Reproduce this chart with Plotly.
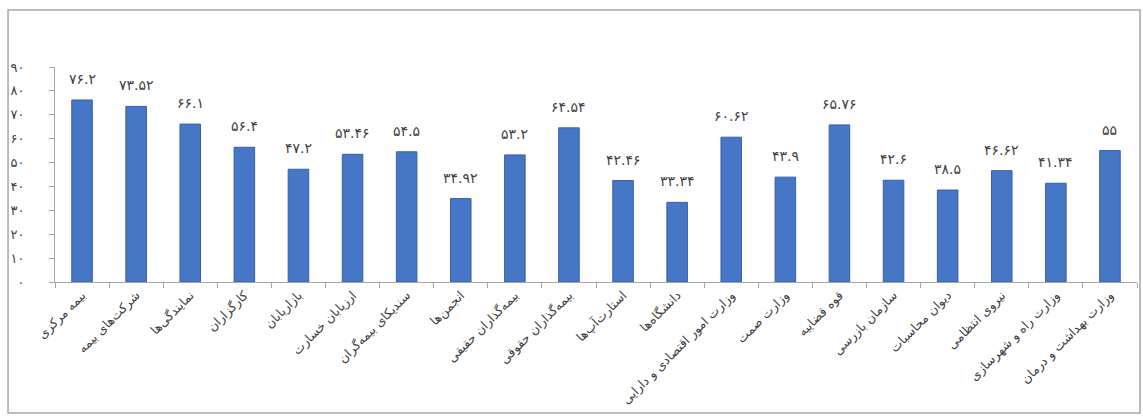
import plotly.graph_objects as go

categories = [
    "بیمه مرکزی", "شرکت‌های بیمه", "نمایندگی‌ها", "کارگزاران", "بازاریابان",
    "ارزیابان خسارت", "سندیکای بیمه‌گران", "انجمن‌ها", "بیمه‌گذاران حقیقی",
    "بیمه‌گذاران حقوقی", "استارت‌آپ‌ها", "دانشگاه‌ها",
    "وزارت امور اقتصادی و دارایی", "وزارت صمت", "قوه قضاییه", "سازمان بازرسی",
    "دیوان محاسبات", "نیروی انتظامی", "وزارت راه و شهرسازی",
    "وزارت بهداشت و درمان",
]
values = [76.2, 73.52, 66.1, 56.4, 47.2, 53.46, 54.5, 34.92, 53.2, 64.54,
          42.46, 33.34, 60.62, 43.9, 65.76, 42.6, 38.5, 46.62, 41.34, 55]
y_ticks = [0, 10, 20, 30, 40, 50, 60, 70, 80, 90]

FA = str.maketrans("0123456789", "۰۱۲۳۴۵۶۷۸۹")


def fa(v):
    return ("%g" % v).translate(FA)


tick_text = [fa(v) for v in y_ticks]
value_text = [fa(v) for v in values]

FONT = "DejaVu Sans, Noto Sans, sans-serif"
TXT = "#404040"

fig = go.Figure()
fig.add_trace(go.Bar(
    x=categories, y=values,
    marker=dict(color="#4677C6", line=dict(color="#3A5FA8", width=1)),
    width=0.38,
    hoverinfo="x+y",
))

for c, v, t in zip(categories, values, value_text):
    fig.add_annotation(x=c, y=v, text=t, showarrow=False, yanchor="bottom",
                       yshift=11, font=dict(family=FONT, size=14, color=TXT))

fig.update_layout(
    width=1143, height=417,
    margin=dict(l=55, r=6, t=67, b=135),
    paper_bgcolor="white", plot_bgcolor="white",
    showlegend=False,
    font=dict(family=FONT, color=TXT),
    xaxis=dict(
        type="category", tickangle=-45, tickson="boundaries",
        ticks="outside", ticklen=5, tickcolor="#A6A6A6",
        showline=True, linecolor="#A6A6A6", linewidth=1,
        tickfont=dict(family=FONT, size=12.5, color=TXT),
        showgrid=False,
    ),
    yaxis=dict(
        range=[0, 90], tickvals=y_ticks, ticktext=tick_text,
        ticks="outside", ticklen=5, tickcolor="#A6A6A6",
        showline=True, linecolor="#A6A6A6", linewidth=1,
        showgrid=False, zeroline=False,
        ticklabelstandoff=22,
        tickfont=dict(family=FONT, size=13, color=TXT),
    ),
)

fig.add_shape(type="rect", xref="paper", yref="paper",
              x0=-0.0434, x1=1.0028, y0=-0.609, y1=1.265,
              line=dict(color="#A6A6A6", width=1.5), fillcolor="rgba(0,0,0,0)",
              layer="below")

fig.write_html("out.html")
